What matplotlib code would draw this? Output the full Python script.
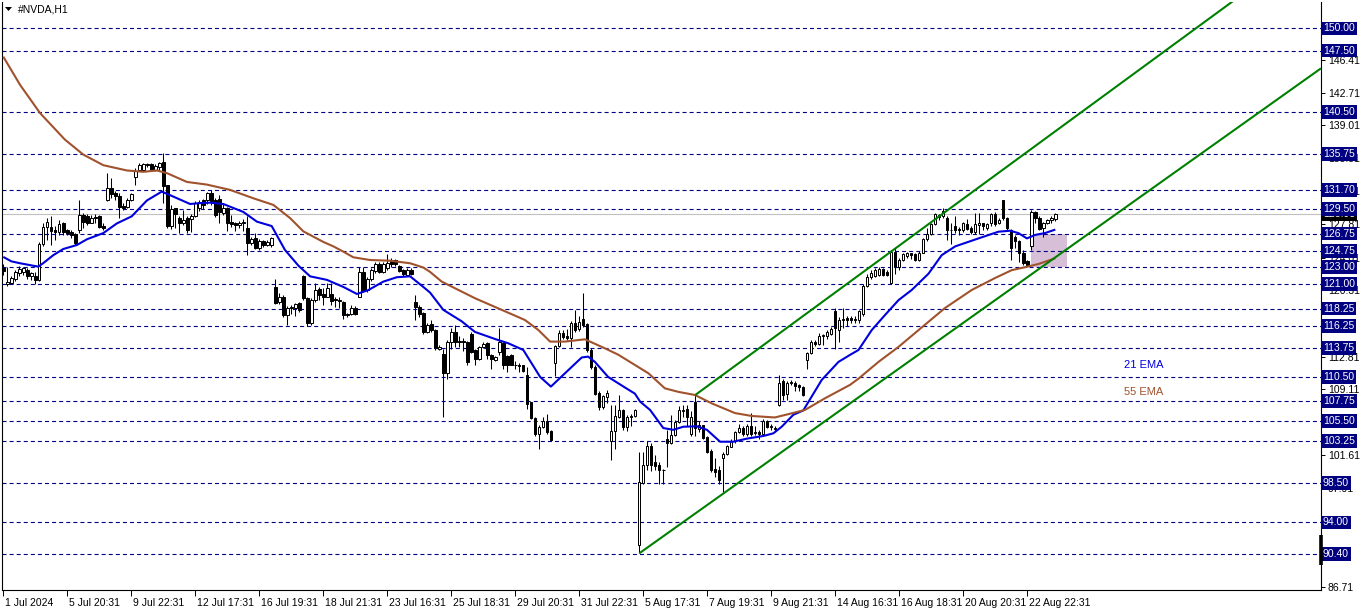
import matplotlib
matplotlib.use("Agg")
import matplotlib.pyplot as plt
import matplotlib.transforms as mtransforms
from matplotlib.patches import Rectangle, Polygon

plt.rcParams['font.family'] = ['Liberation Sans', 'DejaVu Sans']
plt.rcParams['lines.scale_dashes'] = False

# ---------------- data (H1 candles, #NVDA) ----------------
opens = [122.8, 121.0, 121.2, 121.6, 122.3, 122.4, 122.6, 121.9, 121.9, 121.5,
         125.6, 127.5, 127.5, 127.1, 126.9, 127.9, 127.1, 126.9, 126.7, 127.2,
         128.9, 128.7, 128.0, 128.6, 128.7, 127.6, 130.6, 131.9, 131.3, 131.0,
         129.9, 129.8, 130.5, 133.2, 133.9, 134.0, 134.6, 134.6, 134.0, 134.3,
         134.9, 132.2, 127.6, 129.6, 128.5, 127.9, 128.5, 128.4, 128.7, 129.7,
         130.5, 130.5, 131.3, 130.5, 130.7, 129.1, 129.6, 128.1, 127.9, 127.7,
         127.9, 127.4, 125.7, 126.3, 125.1, 125.9, 125.5, 125.4, 120.7, 119.0,
         119.6, 117.5, 118.3, 118.3, 118.9, 121.9, 119.4, 116.6, 119.2, 120.5,
         119.9, 119.6, 119.9, 119.3, 119.2, 119.0, 117.6, 117.6, 118.3, 119.6,
         122.4, 120.3, 121.6, 122.5, 123.3, 122.4, 122.8, 123.7, 123.7, 123.1,
         122.6, 122.1, 122.6, 119.0, 118.4, 117.7, 115.6, 116.5, 115.8, 113.7,
         113.1, 110.9, 114.4, 115.6, 114.6, 114.6, 114.4, 115.4, 113.5, 112.5,
         113.9, 114.3, 113.0, 112.4, 113.3, 114.3, 112.9, 113.0, 111.9, 111.8,
         111.8, 110.7, 107.6, 105.8, 104.0, 104.8, 105.5, 104.4, 112.1, 114.0,
         115.5, 115.1, 114.9, 116.6, 115.9, 117.1, 116.5, 113.6, 111.6, 108.7,
         107.1, 108.2, 103.2, 104.4, 106.0, 106.8, 104.8, 105.9, 106.1, 91.4,
         98.5, 100.5, 102.7, 100.8, 100.5, 99.9, 103.5, 103.0, 103.9, 105.4,
         106.6, 106.9, 104.0, 107.7, 104.6, 105.0, 103.7, 102.1, 100.1, 99.9,
         101.3, 101.8, 102.6, 103.2, 104.3, 104.7, 104.0, 104.9, 104.1, 104.2,
         104.0, 105.5, 104.8, 104.7, 107.3, 110.0, 108.6, 109.9, 109.8, 109.6,
         109.4, 112.4, 113.2, 114.5, 114.2, 115.1, 115.1, 115.4, 118.0, 115.8,
         117.0, 117.2, 117.2, 117.1, 116.9, 117.6, 120.8, 121.8, 121.9, 122.1,
         122.7, 122.4, 121.1, 124.7, 123.0, 123.7, 124.2, 124.5, 124.4, 123.7,
         124.6, 126.1, 126.7, 127.8, 128.8, 128.7, 128.5, 127.2, 127.6, 127.3,
         127.2, 127.8, 127.4, 126.9, 127.7, 127.9, 127.4, 127.9, 129.0, 127.9,
         130.5, 128.5, 127.2, 126.4, 125.9, 124.6, 123.6, 125.3, 129.2, 128.5,
         127.4, 127.9, 128.3, 128.4]
highs = [123.3, 123.0, 121.9, 122.6, 123.1, 123.0, 122.9, 122.4, 122.4, 125.8,
         127.9, 128.5, 128.7, 127.6, 128.3, 128.1, 127.3, 127.1, 126.8, 130.6,
         129.1, 129.0, 128.8, 129.0, 128.8, 127.9, 133.6, 133.0, 131.6, 131.3,
         130.2, 130.8, 131.4, 134.2, 134.7, 134.7, 134.8, 134.8, 134.6, 134.9,
         135.9, 132.3, 130.0, 129.7, 128.7, 129.4, 128.7, 129.0, 130.4, 130.6,
         130.7, 131.5, 131.7, 130.8, 131.1, 130.2, 129.8, 128.8, 128.1, 128.2,
         128.4, 128.7, 126.4, 126.8, 126.1, 126.0, 126.0, 126.4, 121.6, 120.0,
         119.8, 118.5, 118.7, 118.9, 119.0, 122.1, 119.6, 119.4, 121.1, 120.7,
         120.6, 121.1, 121.2, 119.6, 119.6, 119.1, 117.7, 118.6, 118.5, 123.0,
         123.0, 121.8, 122.8, 123.5, 123.5, 123.5, 124.4, 124.0, 123.9, 123.2,
         122.7, 122.8, 122.8, 119.8, 118.6, 117.8, 116.6, 117.0, 115.9, 114.1,
         113.7, 114.7, 116.0, 116.4, 115.1, 114.9, 114.6, 115.6, 113.7, 114.0,
         114.4, 114.4, 113.1, 112.9, 116.0, 114.5, 113.0, 113.1, 112.3, 112.1,
         111.9, 111.6, 107.7, 106.0, 105.0, 106.0, 106.3, 104.5, 114.1, 115.8,
         115.8, 115.9, 116.8, 118.1, 117.4, 120.0, 116.6, 113.8, 111.8, 108.9,
         108.5, 109.0, 107.3, 107.3, 108.4, 106.9, 106.2, 106.3, 106.9, 102.0,
         102.0, 103.2, 103.0, 101.6, 100.9, 100.1, 104.5, 106.2, 105.6, 107.2,
         107.3, 107.3, 106.6, 108.4, 105.5, 105.1, 103.8, 102.3, 101.3, 100.4,
         102.0, 102.8, 103.5, 104.4, 105.2, 104.9, 105.2, 106.4, 104.9, 104.5,
         105.7, 105.6, 105.2, 104.9, 110.7, 110.3, 110.0, 110.2, 110.0, 109.7,
         109.5, 113.3, 114.7, 114.7, 115.5, 115.4, 115.8, 116.1, 118.3, 117.3,
         118.3, 117.4, 117.4, 117.4, 118.1, 121.0, 122.2, 122.6, 122.9, 123.0,
         122.8, 122.6, 124.9, 125.1, 124.0, 124.6, 124.7, 124.6, 124.5, 124.8,
         126.2, 127.4, 128.0, 129.1, 129.0, 129.6, 128.7, 127.9, 128.7, 127.5,
         128.1, 128.4, 127.6, 129.1, 129.1, 128.0, 127.9, 129.1, 129.2, 128.5,
         130.6, 128.6, 127.3, 126.6, 126.0, 124.9, 123.8, 129.4, 129.3, 128.7,
         128.1, 128.4, 128.7, 129.1]
lows = [122.0, 120.8, 121.0, 121.4, 121.9, 122.1, 121.6, 121.5, 121.0, 121.4,
        125.3, 126.0, 125.5, 126.0, 126.6, 126.6, 126.6, 126.3, 125.5, 126.8,
        127.4, 127.7, 127.9, 128.0, 127.4, 127.2, 130.4, 130.8, 130.5, 128.5,
        129.4, 129.7, 130.4, 132.3, 133.8, 133.8, 134.3, 133.9, 133.8, 133.9,
        130.2, 127.4, 127.3, 127.4, 126.8, 127.7, 126.8, 126.9, 128.6, 129.3,
        129.5, 130.1, 130.0, 128.6, 127.9, 128.9, 127.0, 127.5, 127.0, 127.4,
        127.0, 124.3, 125.4, 125.0, 124.9, 125.2, 125.3, 125.2, 118.8, 118.8,
        117.3, 116.4, 117.6, 117.4, 117.9, 119.2, 116.3, 116.4, 119.0, 119.2,
        118.6, 119.5, 118.6, 118.4, 118.3, 117.1, 117.3, 117.5, 117.5, 119.5,
        120.1, 120.1, 121.4, 122.3, 122.3, 122.3, 122.6, 123.0, 123.1, 122.4,
        121.9, 121.9, 122.0, 117.0, 117.3, 115.4, 115.5, 115.6, 113.5, 113.5,
        106.0, 110.3, 113.7, 113.9, 113.9, 113.4, 111.8, 113.2, 111.8, 112.4,
        113.8, 112.5, 111.4, 112.3, 113.0, 111.4, 111.1, 111.8, 111.4, 111.1,
        111.1, 106.9, 105.7, 103.8, 102.3, 104.7, 104.0, 103.2, 110.6, 113.9,
        114.8, 114.7, 113.9, 115.6, 115.7, 116.2, 113.3, 111.4, 108.4, 106.7,
        106.9, 107.5, 101.1, 102.3, 105.8, 104.5, 104.4, 104.9, 105.9, 90.5,
        98.4, 99.9, 99.8, 99.9, 98.4, 98.4, 100.3, 102.9, 103.8, 105.3,
        105.9, 104.9, 103.8, 103.8, 104.2, 103.5, 101.9, 99.7, 99.2, 98.4,
        97.5, 101.6, 102.5, 103.0, 104.1, 103.8, 103.8, 103.8, 103.9, 103.5,
        103.9, 104.7, 104.5, 104.3, 107.2, 107.9, 107.9, 109.6, 108.9, 108.9,
        108.3, 111.4, 113.1, 114.0, 114.1, 114.1, 114.8, 115.2, 113.7, 114.5,
        116.0, 116.3, 116.6, 116.6, 116.6, 117.4, 120.7, 121.6, 121.8, 121.9,
        121.9, 121.9, 121.0, 122.2, 122.6, 123.6, 124.0, 123.9, 123.6, 123.6,
        124.5, 125.9, 126.6, 127.7, 128.3, 128.5, 126.0, 125.6, 126.8, 126.6,
        126.9, 127.1, 126.7, 126.7, 126.7, 127.2, 127.2, 127.6, 127.6, 127.8,
        128.3, 127.2, 123.8, 125.1, 123.5, 123.2, 123.1, 124.9, 127.9, 127.2,
        126.4, 127.8, 127.9, 128.2]
closes = [122.5, 121.3, 121.7, 122.4, 122.7, 122.8, 121.9, 122.3, 121.5, 125.6,
          127.5, 128.1, 127.0, 126.9, 127.8, 126.9, 126.8, 126.6, 125.7, 128.9,
          128.1, 128.0, 128.5, 128.5, 127.5, 127.4, 131.9, 131.2, 131.0, 129.8,
          129.7, 130.6, 131.2, 133.8, 134.5, 134.6, 134.5, 134.0, 134.4, 134.8,
          132.1, 127.6, 129.5, 129.0, 127.9, 128.3, 127.2, 128.7, 130.2, 130.3,
          130.0, 131.3, 130.4, 128.9, 129.2, 129.6, 128.0, 127.8, 127.7, 128.0,
          128.1, 125.7, 126.1, 125.1, 125.9, 125.5, 125.8, 126.3, 118.9, 119.6,
          117.5, 118.3, 118.4, 118.8, 118.1, 119.4, 116.6, 119.2, 120.4, 119.8,
          119.6, 120.6, 119.1, 119.2, 119.1, 117.5, 117.5, 118.3, 117.6, 122.4,
          120.3, 121.6, 122.6, 123.3, 122.4, 123.3, 123.4, 123.3, 123.3, 122.5,
          122.2, 122.6, 122.2, 118.4, 117.6, 115.6, 116.4, 115.8, 113.8, 113.9,
          110.9, 114.5, 115.6, 114.5, 114.4, 114.4, 112.2, 113.3, 112.5, 113.9,
          114.2, 113.0, 112.5, 112.7, 114.5, 111.8, 111.8, 111.9, 111.8, 111.7,
          111.2, 107.4, 105.8, 104.0, 104.8, 105.5, 104.3, 103.4, 114.0, 115.5,
          115.0, 114.9, 116.6, 115.8, 116.7, 116.4, 113.6, 111.6, 108.6, 107.1,
          108.3, 108.7, 104.4, 106.1, 106.8, 104.8, 106.0, 106.1, 106.7, 98.6,
          100.5, 102.7, 100.5, 100.4, 99.9, 99.9, 103.0, 103.9, 105.4, 106.7,
          106.8, 106.0, 106.0, 104.7, 105.0, 103.6, 102.0, 100.0, 99.7, 98.8,
          101.8, 102.7, 103.2, 104.3, 104.7, 104.0, 104.9, 104.0, 104.2, 104.0,
          105.5, 104.8, 104.9, 104.6, 109.8, 108.4, 109.8, 109.8, 109.5, 109.3,
          108.5, 113.2, 114.5, 114.2, 115.1, 115.3, 115.6, 115.9, 116.0, 117.0,
          117.1, 117.0, 116.9, 116.9, 118.0, 120.8, 121.8, 122.3, 122.6, 122.7,
          122.1, 122.1, 124.7, 123.0, 123.8, 124.4, 124.5, 124.3, 123.8, 124.6,
          126.1, 126.7, 127.8, 129.0, 128.6, 129.3, 127.1, 127.1, 127.1, 127.1,
          127.9, 127.3, 126.9, 127.8, 127.9, 127.6, 127.8, 129.0, 127.8, 128.3,
          128.5, 127.4, 125.1, 125.9, 124.5, 123.4, 123.2, 129.2, 128.5, 127.3,
          127.9, 128.3, 128.5, 128.93]

# 21 EMA (blue) read at bar positions
ema21_bars = [0, 2, 4, 7.5, 8.75, 10, 12.5, 15, 18.4, 20.9, 25, 28.4, 32.1, 35.9, 39.6,
              41.7, 46.7, 49.2, 51.7, 55, 60, 63.4, 67.1, 70.4, 73.8, 76.7, 80.9, 85,
              88.4, 91.3, 95, 98.4, 101.7, 105, 106.7, 110, 114.6, 117.9, 122.9, 126.3,
              130, 134.2, 136.9, 140.4, 144.6, 146.2, 147.9, 151.2, 155.4, 157.9, 159.2,
              161.7, 165, 167.5, 170, 173.4, 175.9, 179.2, 182.5, 185.9, 190, 192.5,
              194.6, 197.5, 200, 204.6, 208.8, 211.7, 213.8, 217.1, 220.4, 223.8, 227.1,
              231.3, 234.6, 238, 243.8, 248.8, 251.7, 253.8, 255.9, 258, 260.4, 263]
ema21_vals = [124.1, 123.6, 123.4, 123.1, 123.0, 123.4, 124.3, 125.0, 125.45, 126.1, 126.8,
              127.9, 128.7, 130.5, 131.5, 131.1, 130.1, 130.2, 130.25, 130.1, 129.2, 128.1,
              127.6, 124.9, 123.1, 121.9, 121.5, 120.7, 119.9, 120.35, 121.3, 121.8, 121.9,
              120.7, 120.05, 118.1, 116.8, 115.6, 114.8, 114.3, 113.55, 110.5, 109.4, 110.9,
              112.7, 112.8, 112.2, 110.5, 109.3, 108.6, 107.7, 106.75, 104.7, 104.5, 104.85,
              104.9, 104.5, 103.15, 103.15, 103.5, 103.8, 104.1, 104.85, 106.2, 106.7, 110.15,
              112.2, 113.0, 113.55, 115.8, 117.5, 119.2, 120.35, 122.2, 124.3, 125.3, 126.2,
              126.96, 127.07, 126.8, 126.2, 126.6, 126.8, 127.2]

# 55 EMA (brown) read at bar positions
ema55_bars = [0, 4.2, 9.2, 15.4, 20, 25, 30.9, 35, 38.4, 40.9, 45.9, 50.9, 56.7, 62.5,
              67.5, 71.7, 75, 77.5, 80, 82.5, 85, 87.5, 91.7, 96.7, 101.7, 105, 106.7,
              109.6, 118, 124.6, 130.4, 133.8, 136.7, 140.4, 145.4, 150.4, 153.8, 158.8,
              161.3, 165.4, 168.8, 172.9, 177.1, 182.9, 187.1, 192.9, 197.1, 200.4, 205.4,
              211.7, 213.8, 218.8, 223.8, 228.8, 235.4, 242.1, 247.9, 252.1, 255.4, 258.8, 263]
ema55_vals = [146.8, 143.6, 140.4, 137.4, 135.7, 134.5, 133.9, 133.75, 133.9, 133.6, 132.6,
              132.3, 131.7, 130.75, 130.0, 128.5, 127.0, 126.4, 125.8, 125.3, 124.7, 124.06,
              123.75, 123.67, 123.38, 122.9, 122.4, 121.3, 119.4, 118.1, 116.95, 115.8, 114.5,
              114.5, 114.76, 113.74, 113.0, 111.6, 110.9, 109.2, 108.8, 108.45, 107.5, 106.4,
              106.07, 105.9, 106.37, 106.75, 108.07, 109.6, 110.3, 112.2, 113.9, 115.8, 118.3,
              120.35, 121.7, 122.6, 122.93, 123.3, 123.95]

# channel rays: (bar, price) anchors
upper_ray = [(173, 108.45), (243, 131.7)]
lower_ray = [(159, 90.5), (263, 124.05)]

# horizontal levels
levels = [150.00, 147.50, 140.50, 135.75, 131.70, 129.50, 126.75, 124.75, 123.00,
          121.00, 118.25, 116.25, 113.75, 110.50, 107.75, 105.50, 103.25, 98.50,
          94.00, 90.40]
axis_ticks = [146.41, 142.71, 139.01, 135.31, 131.61, 127.81, 124.01, 120.31,
              112.81, 109.11, 101.61, 97.91, 86.71]
last_price = 128.93

# zone box (bars, prices)
zone_bars = (256.9, 265.9)
zone_prices = (123.00, 126.75)

# time axis
time_tick_bars = [0, 16, 32, 48, 64, 80, 96, 112, 128, 144, 160, 176, 192, 208, 224, 240, 256]
time_tick_labels = ["1 Jul 2024", "5 Jul 20:31", "9 Jul 22:31", "12 Jul 17:31",
                    "16 Jul 19:31", "18 Jul 21:31", "23 Jul 16:31", "25 Jul 18:31",
                    "29 Jul 20:31", "31 Jul 22:31", "5 Aug 17:31", "7 Aug 19:31",
                    "9 Aug 21:31", "14 Aug 16:31", "16 Aug 18:31", "20 Aug 20:31",
                    "22 Aug 22:31"]

# ---------------- figure ----------------
W, H = 1362, 611
fig = plt.figure(figsize=(W / 100, H / 100), dpi=100)
fig.patch.set_facecolor('white')
x0, x1, y0, y1 = 2, 1321, 2, 590
ax = fig.add_axes([x0 / W, (H - y1) / H, (x1 - x0) / W, (y1 - y0) / H])
ax.set_xlim(-0.325, 329.425)
ax.set_ylim(86.34, 153.0)
ax.set_facecolor('white')

NAVY = '#000080'
for lv in levels:
    ax.axhline(lv, color=NAVY, lw=0.8, dashes=(2.9, 2.2), zorder=1)
ax.axhline(last_price, color='#c0c0c0', lw=0.8, zorder=1)

ax.add_patch(Rectangle((zone_bars[0], zone_prices[0]), zone_bars[1] - zone_bars[0],
                       zone_prices[1] - zone_prices[0], facecolor='#d8bfd8',
                       edgecolor='none', zorder=0.5))

# candles
n = len(closes)
xs = list(range(n))
ax.vlines(xs, lows, highs, color='black', lw=0.75, zorder=3)
for i in range(n):
    o, c = opens[i], closes[i]
    bottom = min(o, c)
    h = abs(c - o)
    fc = 'white' if c >= o else 'black'
    if h < 0.05:
        ax.hlines(o, i - 0.4, i + 0.4, color='black', lw=0.75, zorder=3.5)
    else:
        ax.add_patch(Rectangle((i - 0.3, bottom), 0.6, h, facecolor=fc,
                               edgecolor='black', lw=0.72, zorder=3.5))

# EMAs
ax.plot(ema21_bars, ema21_vals, color='#0000dd', lw=1.5, zorder=4, solid_capstyle='butt')
ax.plot(ema55_bars, ema55_vals, color='#a0522d', lw=1.5, zorder=4, solid_capstyle='butt')

# channel rays extended to the right edge
xr = ax.get_xlim()[1]
for (a, b) in (upper_ray, lower_ray):
    slope = (b[1] - a[1]) / (b[0] - a[0])
    ax.plot([a[0], xr], [a[1], a[1] + slope * (xr - a[0])], color='#008000', lw=1.5,
            zorder=5, solid_capstyle='butt')

ax.text(280.2, 111.85, "21 EMA", color='#0000dd', fontsize=8, va='center', ha='left')
ax.text(280.2, 108.79, "55 EMA", color='#a0522d', fontsize=8, va='center', ha='left')

# axes style
ax.spines['top'].set_visible(False)
for side in ('right', 'bottom', 'left'):
    ax.spines[side].set_color('black')
    ax.spines[side].set_linewidth(0.8)

ax.yaxis.tick_right()
ax.set_yticks(axis_ticks)
ax.set_yticklabels([f"{t:.2f}" for t in axis_ticks])
ax.tick_params(axis='y', direction='out', length=3, width=0.7, pad=2, labelsize=7.5,
               colors='black')
ax.set_xticks(time_tick_bars)
ax.set_xticklabels(time_tick_labels, ha='left')
ax.tick_params(axis='x', direction='out', length=4, width=0.7, pad=2, labelsize=7.5)
offset = mtransforms.ScaledTranslation(1.5 / 100, 0, fig.dpi_scale_trans)
for lab in ax.get_xticklabels():
    lab.set_transform(lab.get_transform() + offset)

# level price tags on the right axis
tr = mtransforms.blended_transform_factory(ax.transAxes, ax.transData)
for lv in levels:
    ax.text(1.0015, lv, f"{lv:.2f}", transform=tr, color='white', fontsize=7.5,
            va='center', ha='left', zorder=10, clip_on=False,
            bbox=dict(boxstyle='square,pad=0.18', fc=NAVY, ec='none'))
ax.text(1.0015, last_price, f"{last_price:.2f}", transform=tr, color='white', fontsize=7.5,
        va='center', ha='left', zorder=9, clip_on=False,
        bbox=dict(boxstyle='square,pad=0.18', fc='black', ec='none'))
ax.plot([1.0, 1.0], [92.57, 89.17], transform=tr, color='black', lw=2.6, clip_on=False,
        zorder=11, solid_capstyle='butt')

# header
fig.text(18 / W, 1 - 10 / H, "#NVDA,H1", fontsize=7.5, va='center', ha='left')
fig.patches.append(Polygon([[5 / W, 1 - 7 / H], [12 / W, 1 - 7 / H], [8.5 / W, 1 - 11 / H]],
                           closed=True, transform=fig.transFigure, facecolor='black',
                           edgecolor='none'))

fig.savefig('out.png', dpi=100)
